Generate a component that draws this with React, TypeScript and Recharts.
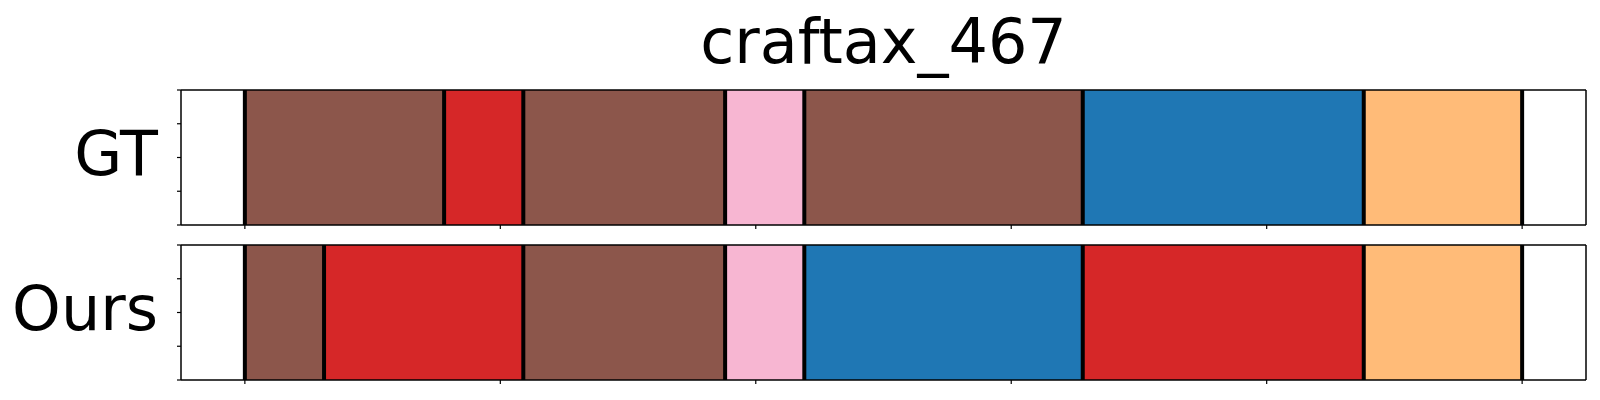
import React from "react";
import { ComposedChart, XAxis, YAxis, ReferenceArea, ReferenceLine } from "recharts";

// segment lengths (time steps) and their colours, left to right
const X_TICKS = [0, 100, 200, 300, 400, 500];
const Y_TICKS = [0, 1, 2, 3, 4];

const GT_LENGTHS = [78, 31, 79, 31, 109, 110, 62];
const GT_COLORS = ["#8c564b", "#d62728", "#8c564b", "#f7b6d2", "#8c564b", "#1f77b4", "#ffbb78"];

const OURS_LENGTHS = [31, 78, 79, 31, 109, 110, 62];
const OURS_COLORS = ["#8c564b", "#d62728", "#8c564b", "#f7b6d2", "#1f77b4", "#d62728", "#ffbb78"];

const TITLE = "craftax_467";
const FONT = "DejaVu Sans, Liberation Sans, sans-serif";

const spine = { stroke: "#000", strokeWidth: 1.5 };
const tickLine = { stroke: "#000", strokeWidth: 1.2 };
const noLabel = () => <g />;

// plot box: x 181..1586; each axis takes 1px of the margin (0 px axes are not drawn)
function Panel({ label, lengths, colors, top, height, plotTop, plotBottom, title }: any) {
  const margin = { top: plotTop - 1, right: 13, bottom: height - plotBottom - 1, left: 180 };
  const bounds = [0];
  lengths.forEach((v: number) => bounds.push(bounds[bounds.length - 1] + v));
  const rows = bounds.map((t) => ({ t }));

  const rowLabel = () => (
    <text
      x={158}
      y={(plotTop + plotBottom) / 2 + 17}
      textAnchor="end"
      fontSize={62}
      fontFamily={FONT}
      fill="#000"
    >
      {label}
    </text>
  );

  const titleLabel = () => (
    <text x={883.5} y={63} textAnchor="middle" fontSize={62} fontFamily={FONT} fill="#000">
      {title}
    </text>
  );

  return (
    <div style={{ position: "absolute", left: 0, top, width: 1600, height }}>
      <ComposedChart width={1600} height={height} margin={margin} data={rows}>
        <XAxis
          xAxisId="b"
          dataKey="t"
          type="number"
          domain={[-25, 525]}
          ticks={X_TICKS}
          allowDataOverflow
          tick={noLabel}
          tickSize={4}
          height={1}
          axisLine={spine}
          tickLine={tickLine}
        />
        <XAxis
          xAxisId="t"
          dataKey="t"
          orientation="top"
          type="number"
          domain={[-25, 525]}
          allowDataOverflow
          tick={false}
          tickLine={false}
          height={1}
          axisLine={spine}
          label={title ? { content: titleLabel } : undefined}
        />
        <YAxis
          yAxisId="l"
          type="number"
          domain={[0, 4]}
          ticks={Y_TICKS}
          allowDataOverflow
          tick={noLabel}
          tickSize={4}
          width={1}
          axisLine={spine}
          tickLine={tickLine}
          label={{ content: rowLabel }}
        />
        <YAxis
          yAxisId="r"
          orientation="right"
          type="number"
          domain={[0, 4]}
          allowDataOverflow
          tick={false}
          tickLine={false}
          width={1}
          axisLine={spine}
        />
        {lengths.map((_: number, i: number) => (
          <ReferenceArea
            key={"s" + i}
            x1={bounds[i]}
            x2={bounds[i + 1]}
            y1={0}
            y2={4}
            xAxisId="b"
            yAxisId="l"
            fill={colors[i]}
            fillOpacity={1}
            stroke="none"
            zIndex={100}
          />
        ))}
        {bounds.map((b, i) => (
          <ReferenceLine
            key={"l" + i}
            x={b}
            xAxisId="b"
            yAxisId="l"
            stroke="#000"
            strokeWidth={4}
            zIndex={1000}
          />
        ))}
      </ComposedChart>
    </div>
  );
}

export default function App() {
  return (
    <div style={{ position: "absolute", left: 0, top: 0, width: 1600, height: 400, background: "#fff" }}>
      <Panel
        label="GT"
        lengths={GT_LENGTHS}
        colors={GT_COLORS}
        top={0}
        height={240}
        plotTop={90}
        plotBottom={225}
        title={TITLE}
      />
      <Panel
        label="Ours"
        lengths={OURS_LENGTHS}
        colors={OURS_COLORS}
        top={240}
        height={160}
        plotTop={5}
        plotBottom={140}
      />
    </div>
  );
}
